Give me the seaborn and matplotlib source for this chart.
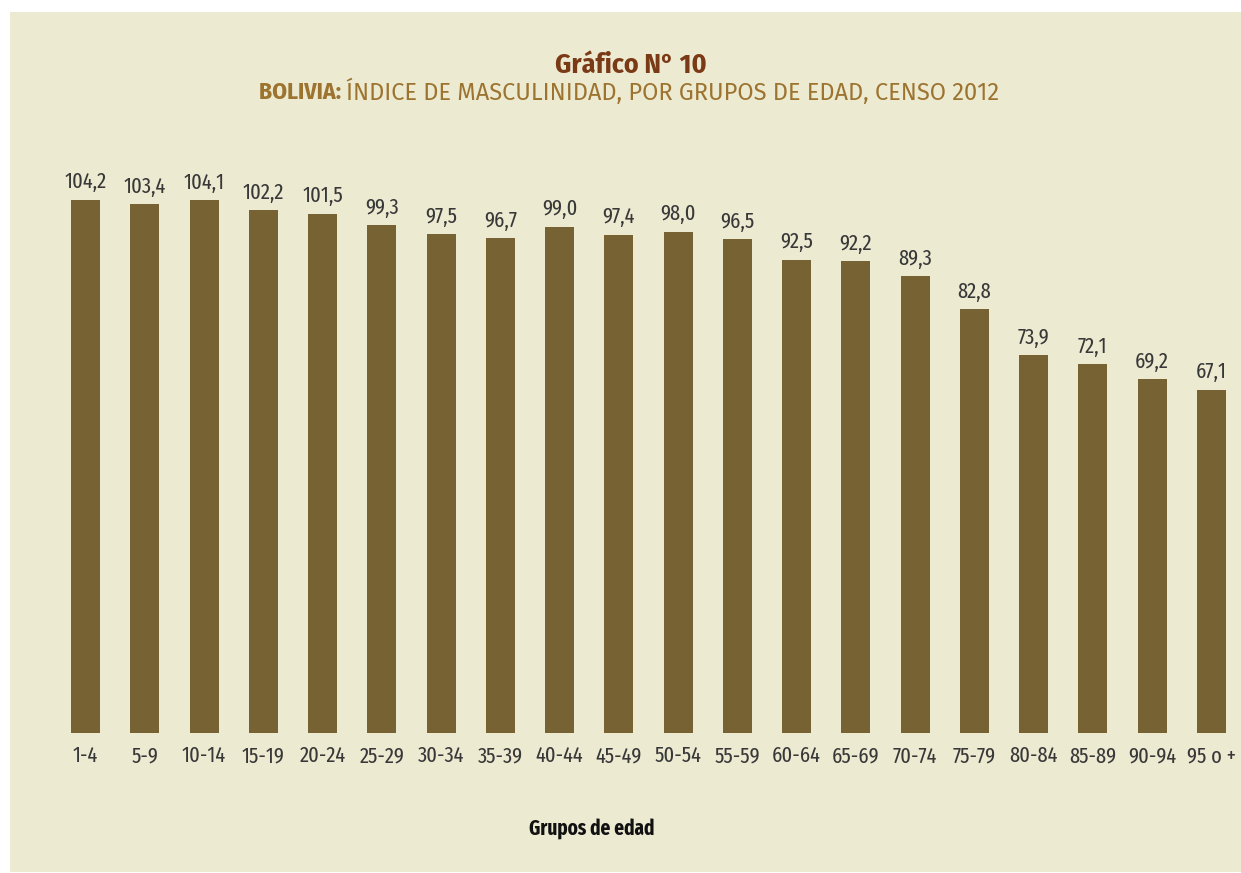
#!/usr/bin/env python3

import pandas as pd
import seaborn as sns
import matplotlib.pyplot as plt
from matplotlib.patches import Rectangle

# age groups and masculinity index (Censo 2012)
grupos = ["1-4", "5-9", "10-14", "15-19", "20-24", "25-29", "30-34", "35-39",
          "40-44", "45-49", "50-54", "55-59", "60-64", "65-69", "70-74",
          "75-79", "80-84", "85-89", "90-94", "95 o +"]
indice = [104.2, 103.4, 104.1, 102.2, 101.5, 99.3, 97.5, 96.7, 99.0, 97.4,
          98.0, 96.5, 92.5, 92.2, 89.3, 82.8, 73.9, 72.1, 69.2, 67.1]

df = pd.DataFrame({"grupo": grupos, "indice": indice})

BG = "#EDEAD2"
BAR = "#766232"
TXT = "#383838"
COND = ["Fira Sans Condensed", "DejaVu Sans"]

sns.set_style("white")
plt.rcParams["font.family"] = ["Fira Sans Extra Condensed", "DejaVu Sans"]

fig = plt.figure(figsize=(12.41, 8.73), dpi=100)
fig.patch.set_facecolor("white")
fig.patches.append(Rectangle((10 / 1241, 1 / 873), 1231 / 1241, 860 / 873,
                             transform=fig.transFigure, facecolor=BG,
                             edgecolor="none", zorder=-1))

ax = fig.add_axes([0.0451, 0.1604, 0.9549, 0.6446])
ax.set_facecolor("none")

sns.barplot(data=df, x="grupo", y="indice", color=BAR, width=0.49,
            saturation=1, linewidth=0, ax=ax)

ax.set_xlim(-0.5, len(grupos) - 0.5)
ax.set_ylim(0, 110)

ax.bar_label(ax.containers[0],
             labels=[f"{v:.1f}".replace(".", ",") for v in indice],
             padding=5, fontsize=16, color=TXT)

ax.set_yticks([])
ax.set_xlabel("")
ax.set_ylabel("")
ax.tick_params(axis="x", length=0, pad=9, labelsize=16, labelcolor=TXT)
for s in ax.spines.values():
    s.set_visible(False)

fig.text(631 / 1241, 1 - 65 / 873, "Gráfico N° 10", ha="center", va="center",
         fontsize=20, fontweight="bold", color="#7B3A16", family=COND)

# subtitle: bold country name followed by regular text
t1 = fig.text(259 / 1241, 1 - 92 / 873, "BOLIVIA: ", ha="left", va="center",
              fontsize=17, fontweight="bold", color="#9C7430", family=COND)
r = fig.canvas.get_renderer()
bb = t1.get_window_extent(renderer=r)
fig.text(bb.x1 / fig.bbox.width, 1 - 92 / 873,
         "ÍNDICE DE MASCULINIDAD, POR GRUPOS DE EDAD, CENSO 2012",
         ha="left", va="center", fontsize=17, color="#9C7430",
         family=["Fira Sans", "DejaVu Sans"])

fig.text(592 / 1241, 1 - 829 / 873, "Grupos de edad", ha="center", va="center",
         fontsize=15, fontweight="bold", color="#111111")

plt.savefig("out.png", dpi=100, facecolor=fig.get_facecolor())
